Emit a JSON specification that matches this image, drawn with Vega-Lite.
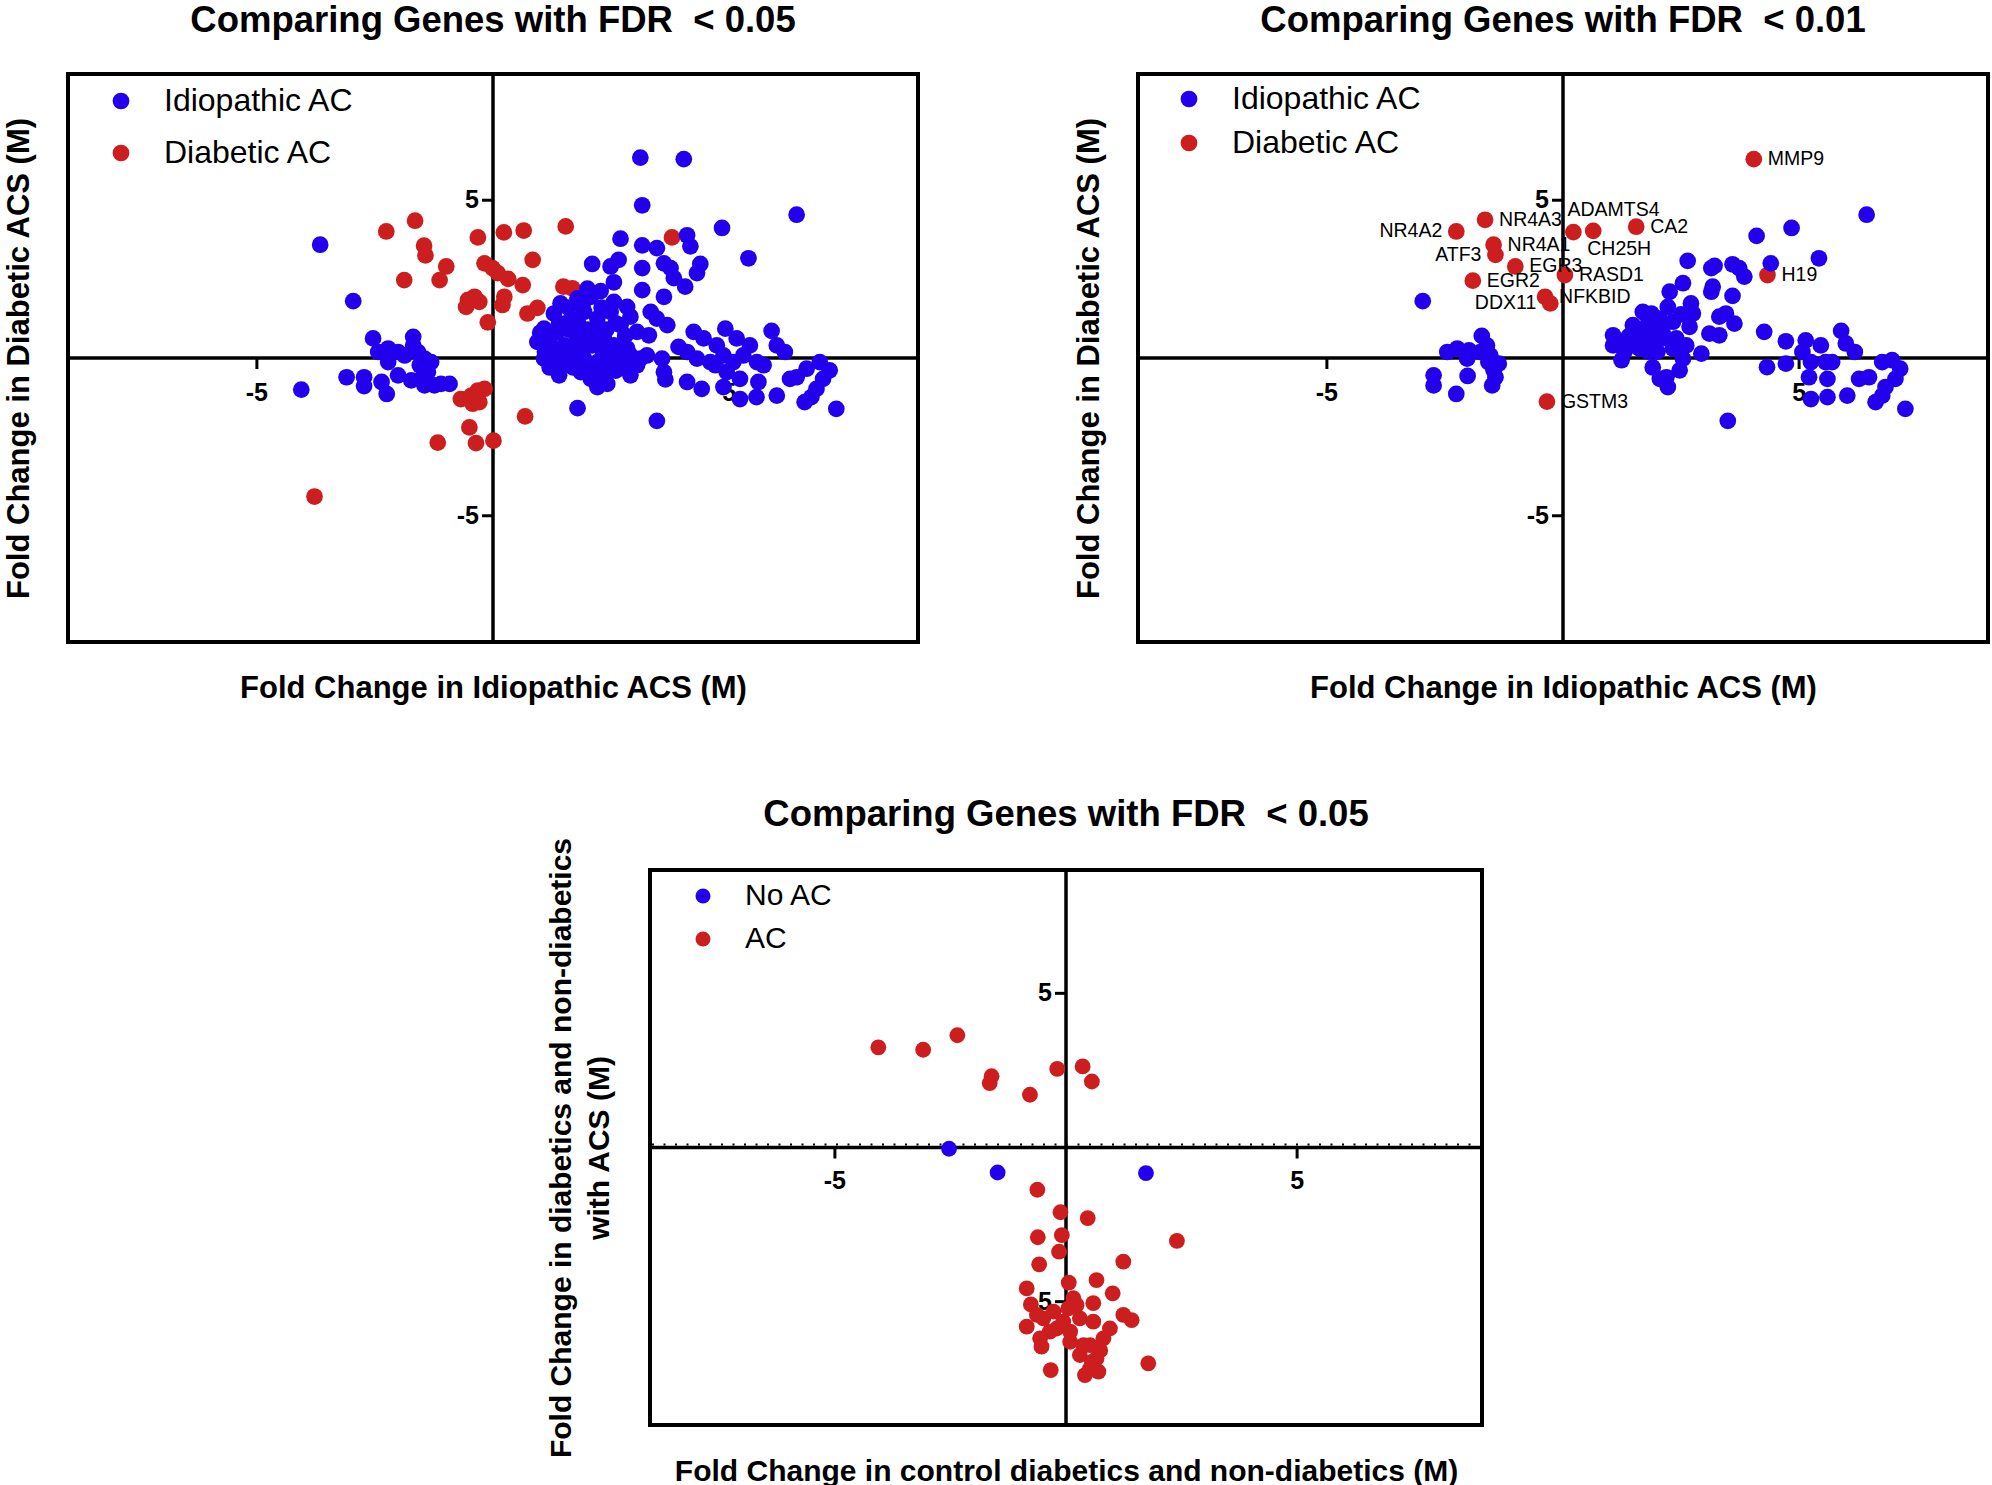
{
"$schema": "https://vega.github.io/schema/vega-lite/v6.json",
"padding": {"left": 0, "top": 0, "right": 0, "bottom": 0},
"config": {
  "view": {"stroke": "black", "strokeWidth": 4},
  "font": "Liberation Sans",
  "axis": {"labels": false, "ticks": false, "domain": false, "grid": false, "titleFontWeight": "bold", "titleColor": "black", "titleFont": "Liberation Sans"},
  "title": {"fontSize": 36.5, "fontWeight": "bold", "color": "black", "frame": "group", "offset": 33, "font": "Liberation Sans"},
  "legend": {"padding": 0, "symbolType": "circle", "symbolStrokeWidth": 0, "labelColor": "black", "labelFont": "Liberation Sans", "labelLimit": 0}
},
"resolve": {"scale": {"color": "independent"}, "legend": {"color": "independent"}},
"datasets": {
  "ticks": [{"ax":"x","v":-5,"label":"-5"},{"ax":"x","v":5,"label":"5"},{"ax":"y","v":-5,"label":"-5"},{"ax":"y","v":5,"label":"5"}],
  "p1": [
    {"x":-3.78,"y":-4.39,"s":"Diabetic AC"},{"x":-2.26,"y":4.01,"s":"Diabetic AC"},{"x":-1.65,"y":4.35,"s":"Diabetic AC"},{"x":-1.46,"y":3.56,"s":"Diabetic AC"},{"x":-1.43,"y":3.25,"s":"Diabetic AC"},{"x":-1.88,"y":2.47,"s":"Diabetic AC"},{"x":-0.99,"y":2.90,"s":"Diabetic AC"},{"x":-1.13,"y":2.47,"s":"Diabetic AC"},{"x":-0.32,"y":3.82,"s":"Diabetic AC"},{"x":0.23,"y":3.98,"s":"Diabetic AC"},{"x":0.65,"y":4.04,"s":"Diabetic AC"},{"x":1.54,"y":4.17,"s":"Diabetic AC"},{"x":0.84,"y":3.11,"s":"Diabetic AC"},{"x":-0.18,"y":3.00,"s":"Diabetic AC"},{"x":-0.01,"y":2.85,"s":"Diabetic AC"},{"x":0.10,"y":2.69,"s":"Diabetic AC"},{"x":0.32,"y":2.51,"s":"Diabetic AC"},{"x":0.63,"y":2.31,"s":"Diabetic AC"},{"x":1.49,"y":2.26,"s":"Diabetic AC"},{"x":-0.53,"y":1.84,"s":"Diabetic AC"},{"x":-0.39,"y":1.94,"s":"Diabetic AC"},{"x":-0.29,"y":1.78,"s":"Diabetic AC"},{"x":-0.57,"y":1.62,"s":"Diabetic AC"},{"x":0.24,"y":1.94,"s":"Diabetic AC"},{"x":0.20,"y":1.68,"s":"Diabetic AC"},{"x":-0.11,"y":1.13,"s":"Diabetic AC"},{"x":0.73,"y":1.41,"s":"Diabetic AC"},{"x":0.94,"y":1.59,"s":"Diabetic AC"},{"x":-0.68,"y":-1.30,"s":"Diabetic AC"},{"x":-0.46,"y":-1.19,"s":"Diabetic AC"},{"x":-0.32,"y":-1.03,"s":"Diabetic AC"},{"x":-0.18,"y":-0.98,"s":"Diabetic AC"},{"x":-0.43,"y":-1.45,"s":"Diabetic AC"},{"x":-0.29,"y":-1.40,"s":"Diabetic AC"},{"x":0.68,"y":-1.85,"s":"Diabetic AC"},{"x":-0.50,"y":-2.20,"s":"Diabetic AC"},{"x":-1.17,"y":-2.68,"s":"Diabetic AC"},{"x":-0.36,"y":-2.70,"s":"Diabetic AC"},{"x":0.01,"y":-2.62,"s":"Diabetic AC"},{"x":3.79,"y":3.82,"s":"Diabetic AC"},{"x":1.68,"y":2.21,"s":"Diabetic AC"},
    {"x":-3.66,"y":3.59,"s":"Idiopathic AC"},{"x":-2.96,"y":1.80,"s":"Idiopathic AC"},{"x":-4.06,"y":-1.00,"s":"Idiopathic AC"},{"x":-3.10,"y":-0.61,"s":"Idiopathic AC"},{"x":-2.73,"y":-0.61,"s":"Idiopathic AC"},{"x":-2.73,"y":-0.89,"s":"Idiopathic AC"},{"x":-2.54,"y":0.62,"s":"Idiopathic AC"},{"x":-2.36,"y":-0.76,"s":"Idiopathic AC"},{"x":-2.25,"y":-1.14,"s":"Idiopathic AC"},{"x":-2.43,"y":0.19,"s":"Idiopathic AC"},{"x":-2.22,"y":0.30,"s":"Idiopathic AC"},{"x":-2.22,"y":-0.13,"s":"Idiopathic AC"},{"x":-2.01,"y":0.19,"s":"Idiopathic AC"},{"x":-2.01,"y":-0.55,"s":"Idiopathic AC"},{"x":-1.87,"y":0.08,"s":"Idiopathic AC"},{"x":-1.69,"y":0.67,"s":"Idiopathic AC"},{"x":-1.69,"y":0.40,"s":"Idiopathic AC"},{"x":-1.73,"y":-0.71,"s":"Idiopathic AC"},{"x":-1.59,"y":0.19,"s":"Idiopathic AC"},{"x":-1.55,"y":-0.23,"s":"Idiopathic AC"},{"x":-1.45,"y":-0.02,"s":"Idiopathic AC"},{"x":-1.45,"y":-0.87,"s":"Idiopathic AC"},{"x":-1.38,"y":-0.45,"s":"Idiopathic AC"},{"x":-1.31,"y":-0.13,"s":"Idiopathic AC"},{"x":-1.24,"y":-0.87,"s":"Idiopathic AC"},{"x":-1.10,"y":-0.82,"s":"Idiopathic AC"},{"x":-0.92,"y":-0.82,"s":"Idiopathic AC"},{"x":-1.52,"y":-0.66,"s":"Idiopathic AC"},
    {"x":3.12,"y":6.35,"s":"Idiopathic AC"},{"x":4.04,"y":6.30,"s":"Idiopathic AC"},{"x":3.16,"y":4.84,"s":"Idiopathic AC"},{"x":6.43,"y":4.54,"s":"Idiopathic AC"},{"x":4.85,"y":4.12,"s":"Idiopathic AC"},{"x":4.11,"y":3.89,"s":"Idiopathic AC"},{"x":4.18,"y":3.54,"s":"Idiopathic AC"},{"x":2.70,"y":3.78,"s":"Idiopathic AC"},{"x":3.16,"y":3.57,"s":"Idiopathic AC"},{"x":3.47,"y":3.48,"s":"Idiopathic AC"},{"x":5.41,"y":3.16,"s":"Idiopathic AC"},{"x":2.10,"y":2.98,"s":"Idiopathic AC"},{"x":2.49,"y":2.90,"s":"Idiopathic AC"},{"x":2.66,"y":3.11,"s":"Idiopathic AC"},{"x":3.16,"y":2.85,"s":"Idiopathic AC"},{"x":3.62,"y":3.00,"s":"Idiopathic AC"},{"x":3.76,"y":2.85,"s":"Idiopathic AC"},{"x":3.83,"y":2.53,"s":"Idiopathic AC"},{"x":4.07,"y":2.26,"s":"Idiopathic AC"},{"x":4.39,"y":2.98,"s":"Idiopathic AC"},{"x":4.32,"y":2.69,"s":"Idiopathic AC"},{"x":2.56,"y":2.40,"s":"Idiopathic AC"},{"x":3.16,"y":2.15,"s":"Idiopathic AC"},{"x":3.62,"y":1.94,"s":"Idiopathic AC"},{"x":2.28,"y":2.12,"s":"Idiopathic AC"},{"x":1.43,"y":1.73,"s":"Idiopathic AC"},{"x":1.79,"y":1.89,"s":"Idiopathic AC"},{"x":2.07,"y":1.94,"s":"Idiopathic AC"},{"x":2.56,"y":1.78,"s":"Idiopathic AC"},{"x":2.84,"y":1.62,"s":"Idiopathic AC"},{"x":3.34,"y":1.46,"s":"Idiopathic AC"},{"x":3.47,"y":1.25,"s":"Idiopathic AC"},{"x":3.69,"y":1.04,"s":"Idiopathic AC"},{"x":2.91,"y":1.31,"s":"Idiopathic AC"},{"x":1.29,"y":1.41,"s":"Idiopathic AC"},{"x":1.08,"y":0.93,"s":"Idiopathic AC"},{"x":1.36,"y":0.83,"s":"Idiopathic AC"},{"x":1.65,"y":1.25,"s":"Idiopathic AC"},{"x":1.93,"y":1.46,"s":"Idiopathic AC"},{"x":2.21,"y":1.25,"s":"Idiopathic AC"},{"x":2.49,"y":1.46,"s":"Idiopathic AC"},{"x":2.70,"y":1.04,"s":"Idiopathic AC"},{"x":3.05,"y":0.83,"s":"Idiopathic AC"},{"x":3.30,"y":0.72,"s":"Idiopathic AC"},{"x":0.94,"y":0.51,"s":"Idiopathic AC"},{"x":1.22,"y":0.30,"s":"Idiopathic AC"},{"x":1.51,"y":0.40,"s":"Idiopathic AC"},{"x":1.79,"y":0.62,"s":"Idiopathic AC"},{"x":2.07,"y":0.72,"s":"Idiopathic AC"},{"x":2.35,"y":0.62,"s":"Idiopathic AC"},{"x":2.56,"y":0.40,"s":"Idiopathic AC"},{"x":2.84,"y":0.30,"s":"Idiopathic AC"},{"x":1.65,"y":0.08,"s":"Idiopathic AC"},{"x":1.08,"y":-0.02,"s":"Idiopathic AC"},{"x":1.93,"y":-0.02,"s":"Idiopathic AC"},{"x":2.21,"y":-0.13,"s":"Idiopathic AC"},{"x":2.49,"y":-0.02,"s":"Idiopathic AC"},{"x":2.77,"y":-0.13,"s":"Idiopathic AC"},{"x":3.12,"y":-0.02,"s":"Idiopathic AC"},{"x":3.26,"y":0.08,"s":"Idiopathic AC"},{"x":3.58,"y":-0.02,"s":"Idiopathic AC"},{"x":1.40,"y":-0.55,"s":"Idiopathic AC"},{"x":1.86,"y":-0.45,"s":"Idiopathic AC"},{"x":2.07,"y":-0.66,"s":"Idiopathic AC"},{"x":2.21,"y":-0.92,"s":"Idiopathic AC"},{"x":2.42,"y":-0.82,"s":"Idiopathic AC"},{"x":2.49,"y":-0.34,"s":"Idiopathic AC"},{"x":2.91,"y":-0.55,"s":"Idiopathic AC"},{"x":3.05,"y":-0.23,"s":"Idiopathic AC"},{"x":3.62,"y":-0.45,"s":"Idiopathic AC"},{"x":3.65,"y":-0.68,"s":"Idiopathic AC"},{"x":1.79,"y":-1.59,"s":"Idiopathic AC"},{"x":3.47,"y":-1.99,"s":"Idiopathic AC"},{"x":4.25,"y":0.83,"s":"Idiopathic AC"},{"x":3.93,"y":0.35,"s":"Idiopathic AC"},{"x":4.11,"y":0.19,"s":"Idiopathic AC"},{"x":4.32,"y":-0.02,"s":"Idiopathic AC"},{"x":4.46,"y":0.62,"s":"Idiopathic AC"},{"x":4.74,"y":0.40,"s":"Idiopathic AC"},{"x":4.92,"y":0.93,"s":"Idiopathic AC"},{"x":5.16,"y":0.62,"s":"Idiopathic AC"},{"x":5.44,"y":0.40,"s":"Idiopathic AC"},{"x":4.60,"y":-0.13,"s":"Idiopathic AC"},{"x":4.88,"y":0.08,"s":"Idiopathic AC"},{"x":5.09,"y":-0.13,"s":"Idiopathic AC"},{"x":5.30,"y":0.08,"s":"Idiopathic AC"},{"x":5.59,"y":-0.13,"s":"Idiopathic AC"},{"x":5.73,"y":-0.23,"s":"Idiopathic AC"},{"x":4.11,"y":-0.76,"s":"Idiopathic AC"},{"x":4.42,"y":-0.98,"s":"Idiopathic AC"},{"x":4.88,"y":-0.92,"s":"Idiopathic AC"},{"x":5.23,"y":-0.66,"s":"Idiopathic AC"},{"x":5.23,"y":-1.30,"s":"Idiopathic AC"},{"x":5.58,"y":-1.24,"s":"Idiopathic AC"},{"x":5.62,"y":-0.76,"s":"Idiopathic AC"},{"x":6.01,"y":-1.19,"s":"Idiopathic AC"},{"x":5.90,"y":0.86,"s":"Idiopathic AC"},{"x":6.01,"y":0.40,"s":"Idiopathic AC"},{"x":6.18,"y":0.19,"s":"Idiopathic AC"},{"x":6.29,"y":-0.66,"s":"Idiopathic AC"},{"x":6.43,"y":-0.61,"s":"Idiopathic AC"},{"x":6.64,"y":-0.34,"s":"Idiopathic AC"},{"x":6.92,"y":-0.13,"s":"Idiopathic AC"},{"x":7.13,"y":-0.39,"s":"Idiopathic AC"},{"x":6.99,"y":-0.66,"s":"Idiopathic AC"},{"x":6.85,"y":-0.98,"s":"Idiopathic AC"},{"x":6.74,"y":-1.24,"s":"Idiopathic AC"},{"x":6.60,"y":-1.40,"s":"Idiopathic AC"},{"x":7.27,"y":-1.61,"s":"Idiopathic AC"},{"x":4.71,"y":-0.23,"s":"Idiopathic AC"},{"x":4.95,"y":-0.45,"s":"Idiopathic AC"},
    {"x":1.2,"y":0.6,"s":"Idiopathic AC"},{"x":1.4,"y":1.1,"s":"Idiopathic AC"},{"x":1.6,"y":0.9,"s":"Idiopathic AC"},{"x":1.8,"y":1.1,"s":"Idiopathic AC"},{"x":2.0,"y":0.9,"s":"Idiopathic AC"},{"x":2.2,"y":1.0,"s":"Idiopathic AC"},{"x":2.4,"y":0.9,"s":"Idiopathic AC"},{"x":1.1,"y":0.2,"s":"Idiopathic AC"},{"x":1.3,"y":0.0,"s":"Idiopathic AC"},{"x":1.5,"y":0.2,"s":"Idiopathic AC"},{"x":1.7,"y":0.4,"s":"Idiopathic AC"},{"x":1.9,"y":0.3,"s":"Idiopathic AC"},{"x":2.1,"y":0.4,"s":"Idiopathic AC"},{"x":2.3,"y":0.3,"s":"Idiopathic AC"},{"x":2.6,"y":0.2,"s":"Idiopathic AC"},{"x":1.0,"y":0.8,"s":"Idiopathic AC"},{"x":1.9,"y":1.7,"s":"Idiopathic AC"},{"x":2.0,"y":2.2,"s":"Idiopathic AC"},{"x":1.6,"y":1.6,"s":"Idiopathic AC"},{"x":2.3,"y":1.6,"s":"Idiopathic AC"},{"x":2.6,"y":1.1,"s":"Idiopathic AC"},{"x":2.8,"y":0.7,"s":"Idiopathic AC"},{"x":2.9,"y":0.1,"s":"Idiopathic AC"},{"x":1.2,"y":-0.3,"s":"Idiopathic AC"},{"x":1.5,"y":-0.2,"s":"Idiopathic AC"},{"x":1.7,"y":-0.3,"s":"Idiopathic AC"},{"x":2.0,"y":-0.4,"s":"Idiopathic AC"},{"x":2.3,"y":-0.5,"s":"Idiopathic AC"},{"x":2.6,"y":-0.4,"s":"Idiopathic AC"}
  ],
  "p2": [
    {"x":-2.26,"y":4.01,"s":"Diabetic AC","gene":"NR4A2"},{"x":-1.65,"y":4.38,"s":"Diabetic AC","gene":"NR4A3"},{"x":-1.47,"y":3.59,"s":"Diabetic AC","gene":"NR4A1"},{"x":-1.43,"y":3.27,"s":"Diabetic AC","gene":"ATF3"},{"x":-1.01,"y":2.90,"s":"Diabetic AC","gene":"EGR3"},{"x":-1.91,"y":2.45,"s":"Diabetic AC","gene":"EGR2"},{"x":-0.27,"y":1.73,"s":"Diabetic AC","gene":"DDX11"},{"x":-0.38,"y":1.94,"s":"Diabetic AC","gene":"NFKBID"},{"x":0.04,"y":2.63,"s":"Diabetic AC","gene":"RASD1"},{"x":0.22,"y":3.99,"s":"Diabetic AC","gene":"ADAMTS4"},{"x":0.64,"y":4.03,"s":"Diabetic AC","gene":"CH25H"},{"x":1.55,"y":4.16,"s":"Diabetic AC","gene":"CA2"},{"x":-0.34,"y":-1.38,"s":"Diabetic AC","gene":"GSTM3"},{"x":4.04,"y":6.30,"s":"Diabetic AC","gene":"MMP9"},{"x":4.33,"y":2.63,"s":"Diabetic AC","gene":"H19"},
    {"x":-2.97,"y":1.80,"s":"Idiopathic AC"},{"x":-1.72,"y":0.70,"s":"Idiopathic AC"},{"x":-1.61,"y":0.40,"s":"Idiopathic AC"},{"x":-2.45,"y":0.19,"s":"Idiopathic AC"},{"x":-2.24,"y":0.30,"s":"Idiopathic AC"},{"x":-1.99,"y":0.24,"s":"Idiopathic AC"},{"x":-2.03,"y":-0.02,"s":"Idiopathic AC"},{"x":-1.75,"y":0.19,"s":"Idiopathic AC"},{"x":-1.54,"y":0.08,"s":"Idiopathic AC"},{"x":-1.36,"y":-0.18,"s":"Idiopathic AC"},{"x":-1.47,"y":-0.39,"s":"Idiopathic AC"},{"x":-1.43,"y":-0.61,"s":"Idiopathic AC"},{"x":-1.50,"y":-0.87,"s":"Idiopathic AC"},{"x":-2.74,"y":-0.55,"s":"Idiopathic AC"},{"x":-2.74,"y":-0.87,"s":"Idiopathic AC"},{"x":-2.02,"y":-0.57,"s":"Idiopathic AC"},{"x":-2.26,"y":-1.14,"s":"Idiopathic AC"},{"x":-1.58,"y":-0.13,"s":"Idiopathic AC"},
    {"x":1.24,"y":-0.07,"s":"Idiopathic AC"},{"x":1.06,"y":0.72,"s":"Idiopathic AC"},{"x":1.06,"y":0.40,"s":"Idiopathic AC"},{"x":1.48,"y":1.04,"s":"Idiopathic AC"},{"x":1.77,"y":1.36,"s":"Idiopathic AC"},{"x":1.91,"y":1.04,"s":"Idiopathic AC"},{"x":1.77,"y":0.62,"s":"Idiopathic AC"},{"x":1.48,"y":0.51,"s":"Idiopathic AC"},{"x":2.05,"y":-0.66,"s":"Idiopathic AC"},
    {"x":6.43,"y":4.54,"s":"Idiopathic AC"},{"x":4.84,"y":4.12,"s":"Idiopathic AC"},{"x":4.10,"y":3.87,"s":"Idiopathic AC"},{"x":5.42,"y":3.16,"s":"Idiopathic AC"},{"x":4.40,"y":3.00,"s":"Idiopathic AC"},{"x":2.64,"y":3.08,"s":"Idiopathic AC"},{"x":3.14,"y":2.85,"s":"Idiopathic AC"},{"x":3.21,"y":2.92,"s":"Idiopathic AC"},{"x":3.59,"y":2.97,"s":"Idiopathic AC"},{"x":3.73,"y":2.85,"s":"Idiopathic AC"},{"x":3.84,"y":2.58,"s":"Idiopathic AC"},{"x":2.54,"y":2.37,"s":"Idiopathic AC"},{"x":3.17,"y":2.26,"s":"Idiopathic AC"},{"x":3.14,"y":2.10,"s":"Idiopathic AC"},{"x":2.26,"y":2.10,"s":"Idiopathic AC"},{"x":3.59,"y":1.97,"s":"Idiopathic AC"},{"x":2.71,"y":1.73,"s":"Idiopathic AC"},{"x":2.75,"y":1.41,"s":"Idiopathic AC"},{"x":2.22,"y":1.62,"s":"Idiopathic AC"},{"x":3.31,"y":1.31,"s":"Idiopathic AC"},{"x":3.45,"y":1.41,"s":"Idiopathic AC"},{"x":3.63,"y":1.09,"s":"Idiopathic AC"},{"x":2.50,"y":1.38,"s":"Idiopathic AC"},{"x":2.33,"y":1.15,"s":"Idiopathic AC"},{"x":1.87,"y":1.41,"s":"Idiopathic AC"},{"x":1.79,"y":1.04,"s":"Idiopathic AC"},{"x":2.00,"y":0.83,"s":"Idiopathic AC"},{"x":2.68,"y":0.99,"s":"Idiopathic AC"},{"x":3.10,"y":0.77,"s":"Idiopathic AC"},{"x":3.31,"y":0.72,"s":"Idiopathic AC"},{"x":2.40,"y":0.62,"s":"Idiopathic AC"},{"x":2.61,"y":0.40,"s":"Idiopathic AC"},{"x":2.93,"y":0.14,"s":"Idiopathic AC"},{"x":2.54,"y":-0.02,"s":"Idiopathic AC"},{"x":2.47,"y":-0.39,"s":"Idiopathic AC"},{"x":2.19,"y":-0.61,"s":"Idiopathic AC"},{"x":2.22,"y":-0.92,"s":"Idiopathic AC"},{"x":3.49,"y":-1.99,"s":"Idiopathic AC"},{"x":4.26,"y":0.83,"s":"Idiopathic AC"},{"x":4.72,"y":0.53,"s":"Idiopathic AC"},{"x":4.32,"y":-0.29,"s":"Idiopathic AC"},{"x":4.72,"y":-0.18,"s":"Idiopathic AC"},{"x":5.07,"y":0.19,"s":"Idiopathic AC"},{"x":5.14,"y":0.56,"s":"Idiopathic AC"},{"x":5.46,"y":0.40,"s":"Idiopathic AC"},{"x":5.25,"y":-0.13,"s":"Idiopathic AC"},{"x":5.56,"y":-0.13,"s":"Idiopathic AC"},{"x":5.70,"y":-0.13,"s":"Idiopathic AC"},{"x":5.21,"y":-0.61,"s":"Idiopathic AC"},{"x":5.60,"y":-0.66,"s":"Idiopathic AC"},{"x":5.25,"y":-1.30,"s":"Idiopathic AC"},{"x":5.60,"y":-1.24,"s":"Idiopathic AC"},{"x":6.02,"y":-1.19,"s":"Idiopathic AC"},{"x":5.89,"y":0.86,"s":"Idiopathic AC"},{"x":5.99,"y":0.46,"s":"Idiopathic AC"},{"x":6.18,"y":0.19,"s":"Idiopathic AC"},{"x":6.27,"y":-0.66,"s":"Idiopathic AC"},{"x":6.48,"y":-0.61,"s":"Idiopathic AC"},{"x":6.76,"y":-0.13,"s":"Idiopathic AC"},{"x":6.97,"y":-0.07,"s":"Idiopathic AC"},{"x":7.14,"y":-0.34,"s":"Idiopathic AC"},{"x":7.04,"y":-0.66,"s":"Idiopathic AC"},{"x":6.83,"y":-0.92,"s":"Idiopathic AC"},{"x":6.62,"y":-1.40,"s":"Idiopathic AC"},{"x":6.76,"y":-1.19,"s":"Idiopathic AC"},{"x":7.25,"y":-1.61,"s":"Idiopathic AC"},
    {"x":1.69,"y":1.46,"s":"Idiopathic AC"},{"x":1.70,"y":0.83,"s":"Idiopathic AC"},{"x":1.98,"y":0.62,"s":"Idiopathic AC"},{"x":1.62,"y":0.30,"s":"Idiopathic AC"},{"x":1.91,"y":0.30,"s":"Idiopathic AC"},{"x":2.19,"y":0.62,"s":"Idiopathic AC"},{"x":2.33,"y":0.30,"s":"Idiopathic AC"},{"x":2.05,"y":1.25,"s":"Idiopathic AC"},
    {"x":1.3,"y":0.2,"s":"Idiopathic AC"},{"x":1.5,"y":0.4,"s":"Idiopathic AC"},{"x":1.4,"y":0.7,"s":"Idiopathic AC"},{"x":1.6,"y":0.6,"s":"Idiopathic AC"},{"x":1.8,"y":0.2,"s":"Idiopathic AC"},{"x":1.2,"y":0.4,"s":"Idiopathic AC"},{"x":2.1,"y":0.9,"s":"Idiopathic AC"},{"x":2.0,"y":0.2,"s":"Idiopathic AC"},{"x":1.9,"y":-0.3,"s":"Idiopathic AC"}
  ],
  "p3": [
    {"x":-2.53,"y":-0.04,"s":"No AC"},{"x":-1.48,"y":-0.81,"s":"No AC"},{"x":1.73,"y":-0.83,"s":"No AC"},
    {"x":-4.06,"y":3.25,"s":"AC"},{"x":-3.09,"y":3.17,"s":"AC"},{"x":-2.35,"y":3.64,"s":"AC"},{"x":-1.61,"y":2.31,"s":"AC"},{"x":-1.65,"y":2.09,"s":"AC"},{"x":-0.78,"y":1.71,"s":"AC"},{"x":-0.19,"y":2.55,"s":"AC"},{"x":0.36,"y":2.63,"s":"AC"},{"x":0.56,"y":2.14,"s":"AC"},{"x":-0.62,"y":-1.37,"s":"AC"},
    {"x":-0.12,"y":-2.10,"s":"AC"},{"x":0.47,"y":-2.29,"s":"AC"},{"x":-0.61,"y":-2.91,"s":"AC"},{"x":-0.09,"y":-2.84,"s":"AC"},{"x":-0.15,"y":-3.38,"s":"AC"},{"x":-0.58,"y":-3.79,"s":"AC"},{"x":1.24,"y":-3.70,"s":"AC"},{"x":2.40,"y":-3.03,"s":"AC"},{"x":0.66,"y":-4.30,"s":"AC"},{"x":0.06,"y":-4.38,"s":"AC"},{"x":-0.85,"y":-4.57,"s":"AC"},{"x":1.01,"y":-4.73,"s":"AC"},{"x":-0.76,"y":-5.09,"s":"AC"},{"x":0.59,"y":-5.05,"s":"AC"},{"x":1.24,"y":-5.43,"s":"AC"},{"x":1.42,"y":-5.60,"s":"AC"},{"x":-0.85,"y":-5.81,"s":"AC"},{"x":-0.49,"y":-5.54,"s":"AC"},{"x":-0.27,"y":-5.32,"s":"AC"},{"x":0.05,"y":-5.22,"s":"AC"},{"x":0.16,"y":-4.89,"s":"AC"},{"x":0.30,"y":-5.54,"s":"AC"},{"x":-0.20,"y":-5.87,"s":"AC"},{"x":0.59,"y":-5.65,"s":"AC"},{"x":0.95,"y":-5.87,"s":"AC"},{"x":0.81,"y":-6.19,"s":"AC"},{"x":0.09,"y":-6.30,"s":"AC"},{"x":-0.53,"y":-6.46,"s":"AC"},{"x":0.52,"y":-6.41,"s":"AC"},{"x":0.74,"y":-6.58,"s":"AC"},{"x":0.30,"y":-6.73,"s":"AC"},{"x":0.52,"y":-7.17,"s":"AC"},{"x":0.70,"y":-7.27,"s":"AC"},{"x":0.41,"y":-7.38,"s":"AC"},{"x":-0.33,"y":-7.22,"s":"AC"},{"x":1.78,"y":-7.00,"s":"AC"},{"x":-0.63,"y":-5.43,"s":"AC"},{"x":-0.35,"y":-5.97,"s":"AC"},{"x":-0.06,"y":-5.65,"s":"AC"},{"x":0.09,"y":-5.97,"s":"AC"},{"x":0.23,"y":-5.11,"s":"AC"},{"x":-0.56,"y":-6.19,"s":"AC"},{"x":0.38,"y":-6.41,"s":"AC"},{"x":0.66,"y":-6.84,"s":"AC"},{"x":0.56,"y":-6.95,"s":"AC"}
  ]
},
"spacing": 89,
"vconcat": [
  {"hconcat": [
    {"width": 850, "height": 568,
     "title": {"text": "Comparing Genes with FDR \u00a0< 0.05"},
     "layer": [
      {"data": {"values": [{}]}, "mark": {"type": "rule", "color": "black", "strokeWidth": 3.5}, "encoding": {"x": {"datum": 0, "type": "quantitative"}}},
      {"data": {"values": [{}]}, "mark": {"type": "rule", "color": "black", "strokeWidth": 3.5}, "encoding": {"y": {"datum": 0, "type": "quantitative"}}},
      {"data": {"name": "ticks"}, "transform": [{"filter": "datum.ax == 'x'"}], "mark": {"type": "tick", "orient": "vertical", "size": 11, "thickness": 3, "yOffset": 5.5, "color": "black", "opacity": 1}, "encoding": {"x": {"field": "v", "type": "quantitative"}, "y": {"datum": 0, "type": "quantitative"}}},
      {"data": {"name": "ticks"}, "transform": [{"filter": "datum.ax == 'y'"}], "mark": {"type": "tick", "orient": "horizontal", "size": 11, "thickness": 3, "xOffset": -5.5, "color": "black", "opacity": 1}, "encoding": {"y": {"field": "v", "type": "quantitative"}, "x": {"datum": 0, "type": "quantitative"}}},
      {"data": {"name": "ticks"}, "transform": [{"filter": "datum.ax == 'x'"}], "mark": {"type": "text", "fontSize": 25, "fontWeight": "bold", "baseline": "alphabetic", "align": "center", "dy": 43, "color": "black"}, "encoding": {"x": {"field": "v", "type": "quantitative"}, "y": {"datum": 0, "type": "quantitative"}, "text": {"field": "label"}}},
      {"data": {"name": "ticks"}, "transform": [{"filter": "datum.ax == 'y'"}], "mark": {"type": "text", "fontSize": 25, "fontWeight": "bold", "baseline": "middle", "align": "right", "dx": -14, "color": "black"}, "encoding": {"y": {"field": "v", "type": "quantitative"}, "x": {"datum": 0, "type": "quantitative"}, "text": {"field": "label"}}},
      {"data": {"name": "p1"}, "mark": {"type": "circle", "size": 280, "opacity": 1},
       "encoding": {
        "x": {"field": "x", "type": "quantitative", "scale": {"domain": [-9, 9], "nice": false, "zero": false}, "axis": {"title": "Fold Change in Idiopathic ACS (M)", "titleFontSize": 31, "titlePadding": 31}},
        "y": {"field": "y", "type": "quantitative", "scale": {"domain": [-9, 9], "nice": false, "zero": false}, "axis": {"title": "Fold Change in Diabetic ACS (M)", "titleFontSize": 31, "titlePadding": 33}},
        "color": {"field": "s", "type": "nominal", "scale": {"domain": ["Idiopathic AC", "Diabetic AC"], "range": ["#2200ee", "#cc1e1e"]},
          "legend": {"title": null, "orient": "none", "legendX": 37, "legendY": 11, "labelFontSize": 32, "symbolSize": 280, "rowPadding": 20, "labelOffset": 27}}
       }}
     ]},
    {"width": 850, "height": 568,
     "title": {"text": "Comparing Genes with FDR \u00a0< 0.01"},
     "layer": [
      {"data": {"values": [{}]}, "mark": {"type": "rule", "color": "black", "strokeWidth": 3.5}, "encoding": {"x": {"datum": 0, "type": "quantitative"}}},
      {"data": {"values": [{}]}, "mark": {"type": "rule", "color": "black", "strokeWidth": 3.5}, "encoding": {"y": {"datum": 0, "type": "quantitative"}}},
      {"data": {"name": "ticks"}, "transform": [{"filter": "datum.ax == 'x'"}], "mark": {"type": "tick", "orient": "vertical", "size": 11, "thickness": 3, "yOffset": 5.5, "color": "black", "opacity": 1}, "encoding": {"x": {"field": "v", "type": "quantitative"}, "y": {"datum": 0, "type": "quantitative"}}},
      {"data": {"name": "ticks"}, "transform": [{"filter": "datum.ax == 'y'"}], "mark": {"type": "tick", "orient": "horizontal", "size": 11, "thickness": 3, "xOffset": -5.5, "color": "black", "opacity": 1}, "encoding": {"y": {"field": "v", "type": "quantitative"}, "x": {"datum": 0, "type": "quantitative"}}},
      {"data": {"name": "ticks"}, "transform": [{"filter": "datum.ax == 'x'"}], "mark": {"type": "text", "fontSize": 25, "fontWeight": "bold", "baseline": "alphabetic", "align": "center", "dy": 43, "color": "black"}, "encoding": {"x": {"field": "v", "type": "quantitative"}, "y": {"datum": 0, "type": "quantitative"}, "text": {"field": "label"}}},
      {"data": {"name": "ticks"}, "transform": [{"filter": "datum.ax == 'y'"}], "mark": {"type": "text", "fontSize": 25, "fontWeight": "bold", "baseline": "middle", "align": "right", "dx": -14, "color": "black"}, "encoding": {"y": {"field": "v", "type": "quantitative"}, "x": {"datum": 0, "type": "quantitative"}, "text": {"field": "label"}}},
      {"data": {"name": "p2"}, "mark": {"type": "circle", "size": 280, "opacity": 1},
       "encoding": {
        "x": {"field": "x", "type": "quantitative", "scale": {"domain": [-9, 9], "nice": false, "zero": false}, "axis": {"title": "Fold Change in Idiopathic ACS (M)", "titleFontSize": 31, "titlePadding": 31}},
        "y": {"field": "y", "type": "quantitative", "scale": {"domain": [-9, 9], "nice": false, "zero": false}, "axis": {"title": "Fold Change in Diabetic ACS (M)", "titleFontSize": 31, "titlePadding": 33}},
        "color": {"field": "s", "type": "nominal", "scale": {"domain": ["Idiopathic AC", "Diabetic AC"], "range": ["#2200ee", "#cc1e1e"]},
          "legend": {"title": null, "orient": "none", "legendX": 35, "legendY": 9, "labelFontSize": 32, "symbolSize": 280, "rowPadding": 12, "labelOffset": 27}}
       }},
      {"data": {"name": "p2"}, "transform": [{"filter": {"field": "gene", "oneOf": ["NR4A3", "NR4A1", "EGR3", "EGR2", "NFKBID", "RASD1", "CA2", "GSTM3", "MMP9", "H19"]}}], "mark": {"type": "text", "fontSize": 19.5, "align": "left", "baseline": "middle", "dx": 14, "color": "black"}, "encoding": {"x": {"field": "x", "type": "quantitative"}, "y": {"field": "y", "type": "quantitative"}, "text": {"field": "gene"}}},
      {"data": {"name": "p2"}, "transform": [{"filter": {"field": "gene", "oneOf": ["NR4A2", "ATF3", "DDX11"]}}], "mark": {"type": "text", "fontSize": 19.5, "align": "right", "baseline": "middle", "dx": -14, "color": "black"}, "encoding": {"x": {"field": "x", "type": "quantitative"}, "y": {"field": "y", "type": "quantitative"}, "text": {"field": "gene"}}},
      {"data": {"name": "p2"}, "transform": [{"filter": {"field": "gene", "oneOf": ["ADAMTS4"]}}], "mark": {"type": "text", "fontSize": 19.5, "align": "left", "baseline": "middle", "dx": -6, "dy": -22, "color": "black"}, "encoding": {"x": {"field": "x", "type": "quantitative"}, "y": {"field": "y", "type": "quantitative"}, "text": {"field": "gene"}}},
      {"data": {"name": "p2"}, "transform": [{"filter": {"field": "gene", "oneOf": ["CH25H"]}}], "mark": {"type": "text", "fontSize": 19.5, "align": "left", "baseline": "middle", "dx": -6, "dy": 18, "color": "black"}, "encoding": {"x": {"field": "x", "type": "quantitative"}, "y": {"field": "y", "type": "quantitative"}, "text": {"field": "gene"}}}
     ]}
  ], "spacing": 148, "resolve": {"scale": {"color": "independent"}, "legend": {"color": "independent"}}},
  {"hconcat": [
    {"width": 1, "height": 1, "data": {"values": []}, "mark": {"type": "point", "opacity": 0}, "encoding": {}, "view": {"stroke": null}},
    {"width": 832, "height": 555,
     "title": {"text": "Comparing Genes with FDR \u00a0< 0.05", "offset": 4},
     "layer": [
      {"data": {"values": [{}]}, "mark": {"type": "rule", "color": "black", "strokeWidth": 3.5}, "encoding": {"x": {"datum": 0, "type": "quantitative"}}},
      {"data": {"values": [{}]}, "mark": {"type": "rule", "color": "black", "strokeWidth": 3.5}, "encoding": {"y": {"datum": 0, "type": "quantitative"}}},
      {"data": {"values": [{}]}, "mark": {"type": "rule", "color": "black", "strokeWidth": 2, "strokeDash": [2, 9.5], "yOffset": -3}, "encoding": {"y": {"datum": 0, "type": "quantitative"}}},
      {"data": {"name": "ticks"}, "transform": [{"filter": "datum.ax == 'x'"}], "mark": {"type": "tick", "orient": "vertical", "size": 11, "thickness": 3, "yOffset": 5.5, "color": "black", "opacity": 1}, "encoding": {"x": {"field": "v", "type": "quantitative"}, "y": {"datum": 0, "type": "quantitative"}}},
      {"data": {"name": "ticks"}, "transform": [{"filter": "datum.ax == 'y'"}], "mark": {"type": "tick", "orient": "horizontal", "size": 11, "thickness": 3, "xOffset": -5.5, "color": "black", "opacity": 1}, "encoding": {"y": {"field": "v", "type": "quantitative"}, "x": {"datum": 0, "type": "quantitative"}}},
      {"data": {"name": "ticks"}, "transform": [{"filter": "datum.ax == 'x'"}], "mark": {"type": "text", "fontSize": 25, "fontWeight": "bold", "baseline": "alphabetic", "align": "center", "dy": 41, "color": "black"}, "encoding": {"x": {"field": "v", "type": "quantitative"}, "y": {"datum": 0, "type": "quantitative"}, "text": {"field": "label"}}},
      {"data": {"name": "ticks"}, "transform": [{"filter": "datum.ax == 'y'"}], "mark": {"type": "text", "fontSize": 25, "fontWeight": "bold", "baseline": "middle", "align": "right", "dx": -14, "color": "black"}, "encoding": {"y": {"field": "v", "type": "quantitative"}, "x": {"datum": 0, "type": "quantitative"}, "text": {"field": "label"}}},
      {"data": {"name": "p3"}, "mark": {"type": "circle", "size": 250, "opacity": 1},
       "encoding": {
        "x": {"field": "x", "type": "quantitative", "scale": {"domain": [-9, 9], "nice": false, "zero": false}, "axis": {"title": "Fold Change in control diabetics and non-diabetics (M)", "titleFontSize": 30, "titlePadding": 31}},
        "y": {"field": "y", "type": "quantitative", "scale": {"domain": [-9, 9], "nice": false, "zero": false}, "axis": {"title": ["Fold Change in diabetics and non-diabetics", "with ACS (M)"], "titleFontSize": 30, "titleLineHeight": 38, "titlePadding": 36}},
        "color": {"field": "s", "type": "nominal", "scale": {"domain": ["No AC", "AC"], "range": ["#2200ee", "#cc1e1e"]},
          "legend": {"title": null, "orient": "none", "legendX": 38, "legendY": 11, "labelFontSize": 30, "symbolSize": 225, "rowPadding": 13, "labelOffset": 27}}
       }}
     ]}
  ], "spacing": 474, "resolve": {"scale": {"color": "independent"}, "legend": {"color": "independent"}}}
]
}
